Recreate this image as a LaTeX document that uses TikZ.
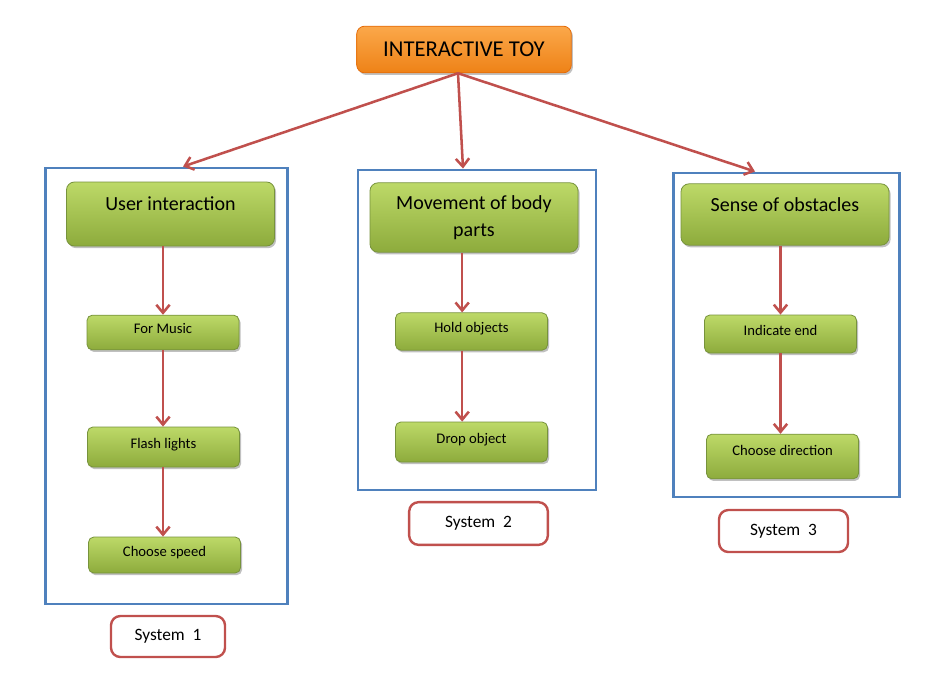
\documentclass[tikz,border=0pt]{standalone}
\usepackage{fontspec}
\setmainfont{Carlito}
\usetikzlibrary{arrows.meta,shadows}
\definecolor{linkred}{HTML}{C0504D}
\definecolor{boxblue}{HTML}{4F81BD}
\definecolor{greentop}{HTML}{BDD968}
\definecolor{greenbot}{HTML}{8DAB3C}
\definecolor{greenline}{HTML}{77933C}
\definecolor{orangetop}{HTML}{FBA84A}
\definecolor{orangebot}{HTML}{EE8217}
\definecolor{orangeline}{HTML}{E46C0A}
\tikzset{
  softshadow/.style={drop shadow={shadow xshift=1.2pt, shadow yshift=-1.6pt, opacity=0.35, fill=black!70}},
  toybox/.style={draw=orangeline, line width=0.6pt, rounded corners=6pt, top color=orangetop, bottom color=orangebot,
    softshadow, minimum width=161pt, minimum height=35pt, font=\fontsize{17}{20}\selectfont},
  groupbox/.style={draw=boxblue, line width=2.2pt, fill=white, drop shadow={shadow xshift=1pt, shadow yshift=-1pt, opacity=0.2}},
  mainbox/.style={draw=greenline, line width=0.6pt, rounded corners=6pt, top color=greentop, bottom color=greenbot,
    softshadow, minimum width=156pt, align=center, font=\fontsize{15}{20}\selectfont},
  subbox/.style={draw=greenline, line width=0.6pt, rounded corners=4pt, top color=greentop, bottom color=greenbot,
    softshadow, minimum width=114pt, text height=7.5pt, text depth=6pt, font=\fontsize{11}{12}\selectfont},
  sysbox/.style={draw=linkred, line width=1.8pt, rounded corners=7pt, fill=white, font=\fontsize{13}{15}\selectfont},
  link/.style={linkred, line width=1.9pt, -{Straight Barb[length=6pt,width=10pt]}}
}
\begin{document}
\begin{tikzpicture}[x=0.75pt, y=-0.75pt]
  \useasboundingbox (0,0) rectangle (935,678);
  % 맨 위
  \node[toybox] (toy) at (464,49.5) {INTERACTIVE TOY};
  % 파란 틀
  \node[groupbox, minimum width=182pt, minimum height=327pt] (blue1) at (166.5,386) {};
  \node[groupbox, minimum width=178.5pt, minimum height=240pt] (blue2) at (477,330) {};
  \node[groupbox, minimum width=170pt, minimum height=243pt] (blue3) at (786.5,335) {};
  % 초록 상자
  \node[mainbox, minimum height=48pt, text height=11pt, text depth=17pt] (user) at (170.5,214) {User interaction};
  \node[mainbox, minimum height=52pt] (move) at (474,217.5) {Movement of body\\parts};
  \node[mainbox, minimum height=46pt, text height=11pt, text depth=16pt] (sense) at (785,214.5) {Sense of obstacles};
  \node[subbox, minimum height=26pt] (music) at (163,332.5) {For Music};
  \node[subbox, minimum height=30pt] (flash) at (163.5,447) {Flash lights};
  \node[subbox, minimum height=27pt] (speed) at (164.5,555) {Choose speed};
  \node[subbox, minimum height=28pt] (hold) at (471.5,331.5) {Hold objects};
  \node[subbox, minimum height=30pt] (drop) at (471.5,442) {Drop object};
  \node[subbox, minimum height=28.5pt] (indic) at (780.5,334) {Indicate end};
  \node[subbox, minimum height=33.5pt, text depth=9pt] (direc) at (782.5,456.5) {Choose direction};
  % 이름표
  \node[sysbox, minimum width=85.5pt, minimum height=30.75pt] (sys1) at (168,636.5) {System\ \ 1};
  \node[sysbox, minimum width=104pt, minimum height=32pt] (sys2) at (478.5,523.5) {System\ \ 2};
  \node[sysbox, minimum width=96.75pt, minimum height=31.5pt] (sys3) at (783.5,531) {System\ \ 3};
  % 화살표
  \draw[link] ([xshift=-4.5pt]toy.south) -- ([xshift=12.4pt]blue1.north);
  \draw[link] ([xshift=-4.5pt]toy.south) -- ([xshift=-10.5pt]blue2.north);
  \draw[link] ([xshift=-4.5pt]toy.south) -- ([xshift=-23.6pt]blue3.north);
  \draw[link] (music.north |- user.south) -- (music.north);
  \draw[link] (music.south) -- (flash.north -| music.south);
  \draw[link] (flash.south -| music.south) -- (speed.north -| music.south);
  \draw[link] ([xshift=-7pt]hold.north |- move.south) -- ([xshift=-7pt]hold.north);
  \draw[link] ([xshift=-7pt]hold.south) -- ([xshift=-7pt]drop.north);
  \draw[link] (indic.north |- sense.south) -- (indic.north);
  \draw[link] (indic.south) -- (direc.north -| indic.south);
\end{tikzpicture}
\end{document}
